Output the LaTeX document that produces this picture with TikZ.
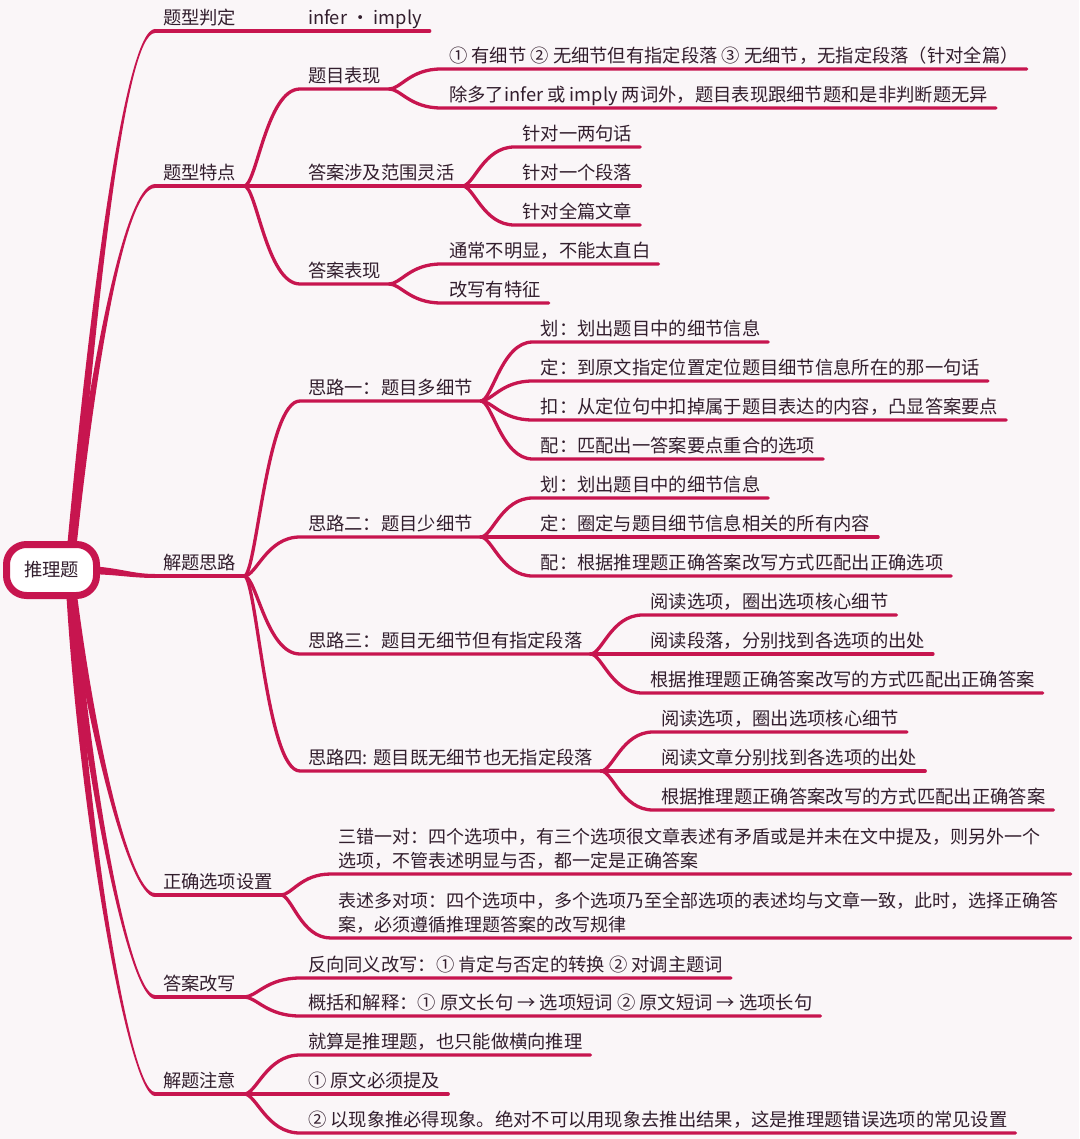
\documentclass[tikz,border=0pt]{standalone}
\usepackage{fontspec}
\setmainfont{Noto Sans CJK SC}
\usetikzlibrary{calc}
\definecolor{linecol}{RGB}{199,21,79}
\definecolor{txtcol}{RGB}{50,30,45}
\definecolor{bgcol}{RGB}{250,246,248}
\pgfdeclarelayer{bg}
\pgfdeclarelayer{edges}
\pgfsetlayers{bg,edges,main}
\tikzset{
  mm/.style={anchor=south west, inner xsep=8pt, inner ysep=0pt, outer sep=0pt,
    text=txtcol, font=\fontsize{18.3}{24.5}\selectfont,
    execute at end node={\rule[-6.5pt]{0pt}{0pt}}},
  para/.style={text width=724pt, align=left, font=\fontsize{18}{24.5}\selectfont},
  conn/.style={draw=linecol, line width=3.3pt, line cap=round},
  l1line/.style={draw=linecol, line width=3.8pt, line cap=round},
  rootbox/.style={draw=linecol, line width=7pt, fill=white, rounded corners=20pt,
    minimum width=90pt, minimum height=51pt, inner sep=0pt, text=txtcol,
    font=\fontsize{18.3}{22}\selectfont},
}
% link from parent (south east) to child (south west), then child's underline
\newcommand\link[2]{\draw[conn] let \p1=(#1.south east), \p2=(#2.south west) in
  (\p1) .. controls ({\x1+0.22*(\x2-\x1)},\y1) and ({\x1+0.4*(\x2-\x1)},\y2) .. (\p2) -- (#2.south east);}
% tapered trunk from root: #1 start coord, #2 c1, #3 c2, #4 target node, #5 signed end half width
\newcommand\vtaper[5]{\fill[linecol] ($(#1)+(-4.5,0)$) .. controls ($#2+(-3.5,0)$) and ($#3+(0,#5)$) ..
  ($(#4.south west)+(0,#5)$) -- ($(#4.south west)+(0,{-1*(#5)})$) .. controls ($#3+(0,{-1*(#5)})$) and ($#2+(3.5,0)$) ..
  ($(#1)+(4.5,0)$) -- cycle;}
\begin{document}
\begin{tikzpicture}[x=1pt,y=-1pt]
\begin{pgfonlayer}{bg}
  \fill[bgcol] (0,0) rectangle (1079,1139);
\end{pgfonlayer}
\useasboundingbox (0,0) rectangle (1079,1139);

% root
\node[rootbox] (root) at (51.5,570) {推理题};
\coordinate (rs) at ($(root.center)+(18,0)$);

% level 1
\node[mm] (L1a) at (155,31) {题型判定};
\node[mm] (L1b) at (155,186) {题型特点};
\node[mm] (L1c) at (155,576) {解题思路};
\node[mm] (L1d) at (155,895) {正确选项设置};
\node[mm] (L1e) at (155,997) {答案改写};
\node[mm] (L1f) at (155,1094) {解题注意};

% level 2
\node[mm] (a1) at (300,31) {infer · imply};
\node[mm] (b1) at (300,89) {题目表现};
\node[mm] (b2) at (300,186) {答案涉及范围灵活};
\node[mm] (b3) at (300,284) {答案表现};
\node[mm] (c1) at (300,401) {思路一：题目多细节};
\node[mm] (c2) at (300,537) {思路二：题目少细节};
\node[mm] (c3) at (300,654) {思路三：题目无细节但有指定段落};
\node[mm] (c4) at (300,771) {思路四: 题目既无细节也无指定段落};
\node[mm, para] (d1) at ($(L1d.south east |- 0,874)+(50,0)$)
  {三错一对：四个选项中，有三个选项很文章表述有矛盾或是并未在文中提及，则另外一个\\选项，不管表述明显与否，都一定是正确答案};
\node[mm, para] (d2) at ($(L1d.south east |- 0,938)+(50,0)$)
  {表述多对项：四个选项中，多个选项乃至全部选项的表述均与文章一致，此时，选择正确答\\案，必须遵循推理题答案的改写规律};
\node[mm] (e1) at (300,978) {反向同义改写：① 肯定与否定的转换 ② 对调主题词};
\node[mm] (e2) at (300,1016) {概括和解释：① 原文长句 → 选项短词 ② 原文短词 → 选项长句};
\node[mm] (f1) at (300,1055) {就算是推理题，也只能做横向推理};
\node[mm] (f2) at (300,1094) {① 原文必须提及};
\node[mm] (f3) at (300,1133) {② 以现象推必得现象。绝对不可以用现象去推出结果，这是推理题错误选项的常见设置};

% level 3
\node[mm] (b11) at ($(b1.south east |- 0,69)+(52,0)$) {① 有细节 ② 无细节但有指定段落 ③ 无细节，无指定段落（针对全篇）};
\node[mm] (b12) at ($(b1.south east |- 0,108)+(52,0)$) {除多了infer 或 imply 两词外，题目表现跟细节题和是非判断题无异};
\node[mm] (b21) at ($(b2.south east |- 0,147)+(52,0)$) {针对一两句话};
\node[mm] (b22) at ($(b2.south east |- 0,186)+(52,0)$) {针对一个段落};
\node[mm] (b23) at ($(b2.south east |- 0,225)+(52,0)$) {针对全篇文章};
\node[mm] (b31) at ($(b3.south east |- 0,264)+(52,0)$) {通常不明显，不能太直白};
\node[mm] (b32) at ($(b3.south east |- 0,303)+(52,0)$) {改写有特征};
\node[mm] (c11) at ($(c1.south east |- 0,342)+(52,0)$) {划：划出题目中的细节信息};
\node[mm] (c12) at ($(c1.south east |- 0,381)+(52,0)$) {定：到原文指定位置定位题目细节信息所在的那一句话};
\node[mm] (c13) at ($(c1.south east |- 0,420)+(52,0)$) {扣：从定位句中扣掉属于题目表达的内容，凸显答案要点};
\node[mm] (c14) at ($(c1.south east |- 0,459)+(52,0)$) {配：匹配出一答案要点重合的选项};
\node[mm] (c21) at ($(c2.south east |- 0,498)+(52,0)$) {划：划出题目中的细节信息};
\node[mm] (c22) at ($(c2.south east |- 0,537)+(52,0)$) {定：圈定与题目细节信息相关的所有内容};
\node[mm] (c23) at ($(c2.south east |- 0,576)+(52,0)$) {配：根据推理题正确答案改写方式匹配出正确选项};
\node[mm] (c31) at ($(c3.south east |- 0,615)+(52,0)$) {阅读选项，圈出选项核心细节};
\node[mm] (c32) at ($(c3.south east |- 0,654)+(52,0)$) {阅读段落，分别找到各选项的出处};
\node[mm] (c33) at ($(c3.south east |- 0,693)+(52,0)$) {根据推理题正确答案改写的方式匹配出正确答案};
\node[mm] (c41) at ($(c4.south east |- 0,732)+(52,0)$) {阅读选项，圈出选项核心细节};
\node[mm] (c42) at ($(c4.south east |- 0,771)+(52,0)$) {阅读文章分别找到各选项的出处};
\node[mm] (c43) at ($(c4.south east |- 0,810)+(52,0)$) {根据推理题正确答案改写的方式匹配出正确答案};

\begin{pgfonlayer}{edges}
  % trunks from root
  \vtaper{rs}{(93,300)}{(125,31)}{L1a}{-2}
  \vtaper{rs}{(88,400)}{(122,186)}{L1b}{-2}
  \vtaper{rs}{(88,720)}{(128,895)}{L1d}{2}
  \vtaper{rs}{(84,760)}{(128,997)}{L1e}{2}
  \vtaper{rs}{(80,800)}{(128,1094)}{L1f}{2}
  \fill[linecol] ($(root.center)+(30,-4)$) .. controls (115,566) and (130,574) ..
    ($(L1c.south west)+(0,-2)$) -- ($(L1c.south west)+(0,2)$) .. controls (130,578) and (115,574) ..
    ($(root.center)+(30,4)$) -- cycle;
  \foreach \n in {L1a,L1b,L1c,L1d,L1e,L1f} {\draw[l1line] (\n.south west) -- (\n.south east);}
  % level 1 -> 2
  \link{L1a}{a1}
  \link{L1b}{b1} \link{L1b}{b2} \link{L1b}{b3}
  \link{L1c}{c1} \link{L1c}{c2} \link{L1c}{c3} \link{L1c}{c4}
  \link{L1d}{d1} \link{L1d}{d2}
  \link{L1e}{e1} \link{L1e}{e2}
  \link{L1f}{f1} \link{L1f}{f2} \link{L1f}{f3}
  % level 2 -> 3
  \link{b1}{b11} \link{b1}{b12}
  \link{b2}{b21} \link{b2}{b22} \link{b2}{b23}
  \link{b3}{b31} \link{b3}{b32}
  \link{c1}{c11} \link{c1}{c12} \link{c1}{c13} \link{c1}{c14}
  \link{c2}{c21} \link{c2}{c22} \link{c2}{c23}
  \link{c3}{c31} \link{c3}{c32} \link{c3}{c33}
  \link{c4}{c41} \link{c4}{c42} \link{c4}{c43}
\end{pgfonlayer}
\end{tikzpicture}
\end{document}
